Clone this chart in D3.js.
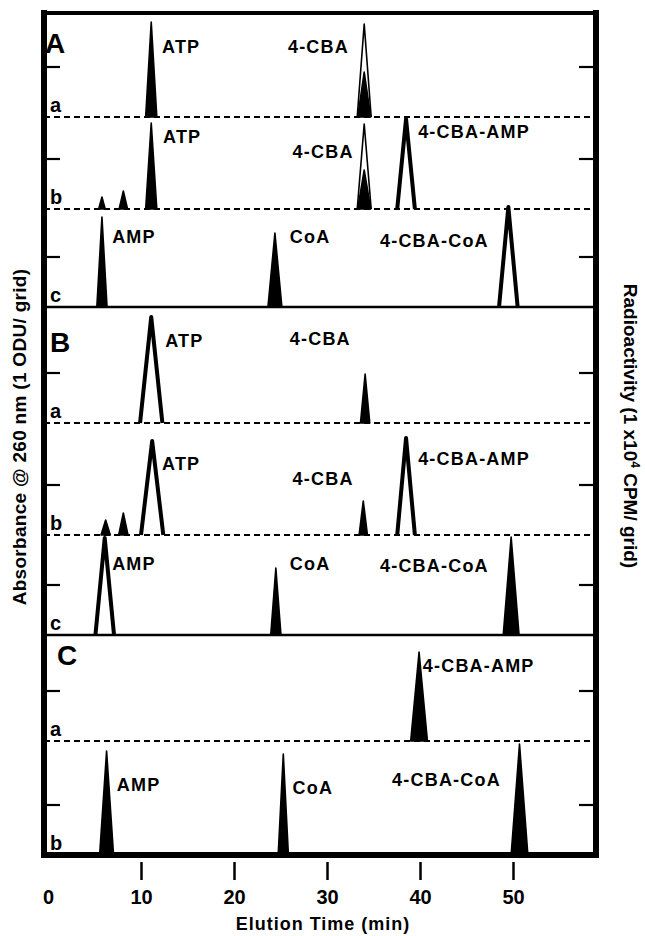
<!DOCTYPE html>
<html><head><meta charset="utf-8">
<script src="https://cdn.jsdelivr.net/npm/d3@7/dist/d3.min.js"></script>
<style>
body{margin:0;background:#fff;}
svg{display:block;font-family:"Liberation Sans",Arial,Helvetica,sans-serif;font-weight:bold;}
</style></head><body><svg id="c" width="645" height="936"></svg>
<script>
// ---------------- DATA ----------------
const timeTicks = [0, 10, 20, 30, 40, 50];
const xTitle = "Elution Time (min)";
const yTitleLeft = "Absorbance @ 260 nm  (1 ODU/ grid)";
const panels = ["A", "B", "C"];
const lanes = [["A","a"],["A","b"],["A","c"],["B","a"],["B","b"],["B","c"],["C","a"],["C","b"]];
// peaks per lane: [name, time (min), height (grid units), half width (min), trace]
// trace: "abs" = filled A260 peak, "absOpen" = open A260 peak, "cpm" = radioactivity outline
const peaksAa = [["ATP",11.1,1.90,0.6,"abs"],["4-CBA",34.0,1.86,0.75,"cpm"],["4-CBA",34.0,0.90,0.7,"abs"]];
const peaksAb = [["?",5.8,0.24,0.35,"abs"],["?",8.1,0.36,0.45,"abs"],["ATP",11.1,1.72,0.6,"abs"],
                 ["4-CBA",34.0,1.70,0.75,"cpm"],["4-CBA",34.0,0.78,0.7,"abs"],["4-CBA-AMP",38.5,1.80,0.95,"absOpen"]];
const peaksAc = [["AMP",5.8,1.80,0.55,"abs"],["CoA",24.4,1.48,0.75,"abs"],["4-CBA-CoA",49.5,2.00,1.0,"absOpen"]];
const peaksBa = [["ATP",11.1,2.12,1.2,"absOpen"],["4-CBA",34.1,0.98,0.5,"abs"]];
const peaksBb = [["?",6.2,0.30,0.5,"abs"],["?",8.1,0.44,0.5,"abs"],["ATP",11.2,1.88,1.2,"absOpen"],
                 ["4-CBA",33.9,0.68,0.45,"abs"],["4-CBA-AMP",38.5,1.94,0.95,"absOpen"]];
const peaksBc = [["AMP",6.1,1.94,1.0,"absOpen"],["CoA",24.5,1.34,0.55,"abs"],["4-CBA-CoA",49.8,1.96,0.85,"abs"]];
const peaksCa = [["4-CBA-AMP",39.9,1.78,0.9,"abs"]];
const peaksCb = [["AMP",6.3,2.08,0.75,"abs"],["CoA",25.3,2.02,0.55,"abs"],["4-CBA-CoA",50.7,2.22,0.9,"abs"]];
const lanePeaks = [peaksAa, peaksAb, peaksAc, peaksBa, peaksBb, peaksBc, peaksCa, peaksCb];
// peak labels: [lane index, text, time anchor (min), level (grid units)]
const peakLabels = [
  [0,"ATP",12.26,1.28],[0,"4-CBA",25.8,1.28],
  [1,"ATP",12.37,1.32],[1,"4-CBA",26.3,1.02],[1,"4-CBA-AMP",39.8,1.42],
  [2,"AMP",6.9,1.28],[2,"CoA",26.0,1.28],[2,"4-CBA-CoA",35.7,1.20],
  [3,"ATP",12.6,1.52],[3,"4-CBA",26.0,1.56],
  [4,"ATP",12.26,1.30],[4,"4-CBA",26.3,1.00],[4,"4-CBA-AMP",39.8,1.40],
  [5,"AMP",6.9,1.30],[5,"CoA",26.0,1.30],[5,"4-CBA-CoA",35.7,1.26],
  [6,"4-CBA-AMP",40.3,1.38],
  [7,"AMP",7.4,1.28],[7,"CoA",26.3,1.22],[7,"4-CBA-CoA",37.0,1.38]
];

// ---------------- LAYOUT ----------------
const svg = d3.select("#c");
const frame = {l: 44, r: 596, t: 13, b: 855};
const x = d3.scaleLinear().domain([0, 50]).range([48, 513]);
const laneBase = [117, 209, 307, 423, 535, 635, 741, 855];
const unitPx = 50;
const panelLetterPos = [[45, 53], [50, 352], [57, 665]];

const g = svg.append("g");

// baselines (dashed for a/b, solid at panel boundaries)
lanes.forEach((ln, i) => {
  const yb = laneBase[i];
  const last = i === lanes.length - 1 || lanes[i + 1][0] !== ln[0];
  if (i === lanes.length - 1) return;
  g.append("line").attr("x1", frame.l).attr("x2", frame.r).attr("y1", yb).attr("y2", yb)
    .attr("stroke", "#000").attr("stroke-width", last ? 2.5 : 2)
    .attr("stroke-dasharray", last ? null : "6,4");
});

// peaks
const order = {cpm: 0, absOpen: 1, abs: 2};
lanes.forEach((ln, i) => {
  const y = d3.scaleLinear().domain([0, 1]).range([laneBase[i], laneBase[i] - unitPx]);
  const line = d3.line().x(d => x(d[0])).y(d => y(d[1]));
  const pk = lanePeaks[i].slice().sort((a, b) => order[a[4]] - order[b[4]]);
  pk.forEach(p => {
    const [name, t, h, hw, tr] = p;
    const pts = [[t - hw, 0], [t, h], [t + hw, 0]];
    if (tr === "abs") {
      g.append("path").attr("d", line(pts) + "Z").attr("fill", "#000")
        .attr("stroke", "#000").attr("stroke-width", 1.6).attr("stroke-linejoin", "round");
    } else if (tr === "absOpen") {
      g.append("path").attr("d", line(pts)).attr("fill", "none")
        .attr("stroke", "#000").attr("stroke-width", 4).attr("stroke-linejoin", "round");
    } else {
      g.append("path").attr("d", line(pts)).attr("fill", "#fff")
        .attr("stroke", "#000").attr("stroke-width", 1.6).attr("stroke-linejoin", "round");
    }
  });
  // lane ticks (1 grid unit)
  g.append("line").attr("x1", frame.l).attr("x2", frame.l + 16).attr("y1", y(1)).attr("y2", y(1))
    .attr("stroke", "#000").attr("stroke-width", 2.2);
  g.append("line").attr("x1", frame.r - 17).attr("x2", frame.r).attr("y1", y(1)).attr("y2", y(1))
    .attr("stroke", "#000").attr("stroke-width", 2.2);
  // lane letter
  g.append("text").attr("x", 50).attr("y", laneBase[i] - 5).attr("font-size", 20).text(ln[1]);
});

// peak labels
peakLabels.forEach(([li, txt, t, lv]) => {
  const y = d3.scaleLinear().domain([0, 1]).range([laneBase[li], laneBase[li] - unitPx]);
  g.append("text").attr("x", x(t)).attr("y", y(lv)).attr("font-size", 18)
    .attr("letter-spacing", 1.2).text(txt);
});

// panel letters
panels.forEach((p, i) => {
  g.append("text").attr("x", panelLetterPos[i][0]).attr("y", panelLetterPos[i][1])
    .attr("font-size", 28).text(p);
});

// frame
const fr = g.append("g").attr("stroke", "#000").attr("stroke-linecap", "square");
fr.append("line").attr("x1", frame.l).attr("x2", frame.r).attr("y1", frame.t).attr("y2", frame.t).attr("stroke-width", 4);
fr.append("line").attr("x1", frame.l).attr("x2", frame.r).attr("y1", frame.b).attr("y2", frame.b).attr("stroke-width", 6);
fr.append("line").attr("x1", frame.l).attr("x2", frame.l).attr("y1", frame.t).attr("y2", frame.b).attr("stroke-width", 6);
fr.append("line").attr("x1", frame.r).attr("x2", frame.r).attr("y1", frame.t).attr("y2", frame.b).attr("stroke-width", 6);

// x axis
const ax = g.append("g").attr("transform", "translate(0,862)")
  .call(d3.axisBottom(x).tickValues(timeTicks).tickSize(18).tickPadding(10).tickFormat(d3.format("d")));
ax.select(".domain").remove();
ax.selectAll(".tick line").attr("stroke-width", 2.5).attr("stroke", "#000")
  .attr("display", d => d === 0 ? "none" : null);
ax.selectAll(".tick text").attr("font-size", 20).attr("font-family", "Liberation Sans, Arial, sans-serif")
  .attr("font-weight", "bold").attr("fill", "#000");

g.append("text").attr("x", 323).attr("y", 930).attr("text-anchor", "middle")
  .attr("font-size", 18).attr("letter-spacing", 1).text(xTitle);

// y titles
g.append("text").attr("transform", "translate(26,437) rotate(-90)").attr("text-anchor", "middle")
  .attr("font-size", 19).attr("letter-spacing", 0.3).text(yTitleLeft);
const rt = g.append("text").attr("transform", "translate(624,426) rotate(90)").attr("text-anchor", "middle")
  .attr("font-size", 19);
rt.append("tspan").text("Radioactivity (1 x10");
rt.append("tspan").attr("dy", -7).attr("font-size", 12).text("4");
rt.append("tspan").attr("dy", 7).text(" CPM/ grid)");
</script></body></html>
